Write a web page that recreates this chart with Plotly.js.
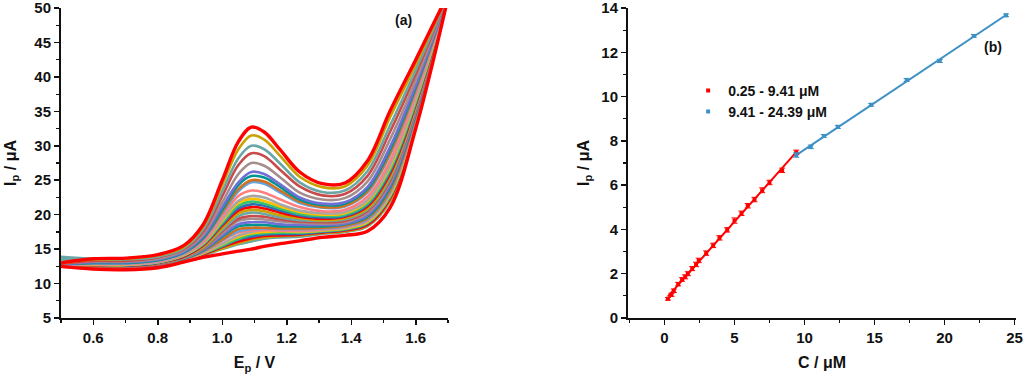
<!DOCTYPE html>
<html><head><meta charset="utf-8">
<script src="https://cdn.plot.ly/plotly-3.0.1.min.js"></script>
<style>html,body{margin:0;padding:0;background:#fff}#chart{width:1024px;height:374px}</style>
</head><body><div id="chart"></div>
<script>
// ---------- Panel (a): DPV curves, potential grid (V) and currents (µA) ----------
const E = [0.50,0.60,0.70,0.80,0.88,0.94,1.00,1.05,1.09,1.13,1.18,1.24,1.31,1.38,1.45,1.52,1.60,1.70];
const c00 = [12.5,12.1,12.0,12.3,13.1,13.8,14.3,14.7,15.0,15.4,15.8,16.2,16.7,17.0,17.6,21.0,32.5,51.5];
const c01 = [13.5,12.9,12.4,12.4,13.3,14.1,15.0,15.7,16.1,16.5,16.7,16.8,17.2,17.5,18.3,21.9,33.1,51.5];
const c02 = [12.5,12.2,12.1,12.5,13.3,14.2,15.1,15.9,16.4,16.7,16.9,17.0,17.3,17.6,18.4,22.1,33.3,51.5];
const c03 = [12.6,12.2,12.2,12.5,13.3,14.2,15.3,16.1,16.6,16.9,17.0,17.1,17.4,17.7,18.5,22.3,33.4,51.6];
const c04 = [12.6,12.3,12.2,12.5,13.4,14.3,15.4,16.4,16.8,17.1,17.2,17.2,17.5,17.8,18.7,22.5,33.5,51.6];
const c05 = [12.6,12.3,12.2,12.5,13.4,14.4,15.5,16.5,17.1,17.3,17.4,17.4,17.6,17.9,18.8,22.6,33.7,51.6];
const c06 = [12.6,12.3,12.2,12.6,13.4,14.4,15.7,16.8,17.3,17.5,17.6,17.5,17.7,18.0,18.9,22.8,33.8,51.6];
const c07 = [12.6,12.3,12.2,12.6,13.4,14.5,15.8,17.0,17.5,17.8,17.7,17.6,17.8,18.1,19.1,23.0,33.9,51.6];
const c08 = [12.4,12.3,12.3,12.6,13.5,14.5,16.2,17.4,17.7,17.8,17.7,17.7,17.9,18.2,19.2,23.2,34.0,51.6];
const c09 = [12.6,12.4,12.3,12.6,13.5,14.6,16.3,17.6,17.9,18.0,17.9,17.9,18.0,18.3,19.3,23.3,34.2,51.6];
const c10 = [12.6,12.4,12.3,12.6,13.5,14.7,16.4,17.9,18.1,18.1,18.0,18.0,18.1,18.4,19.5,23.5,34.3,51.6];
const c11 = [12.6,12.4,12.4,12.7,13.6,14.8,16.8,18.3,18.5,18.5,18.3,18.3,18.3,18.6,19.7,23.9,34.6,51.6];
const c12 = [12.6,12.4,12.4,12.7,13.7,14.9,17.0,18.6,18.9,18.9,18.6,18.5,18.5,18.7,19.9,24.2,34.8,51.6];
const c13 = [12.6,12.5,12.4,12.8,13.7,15.0,17.3,19.1,19.4,19.3,19.0,18.8,18.7,18.9,20.2,24.6,35.1,51.6];
const c14 = [12.6,12.5,12.5,12.8,13.8,15.1,17.6,19.4,19.8,19.7,19.3,19.0,18.9,19.1,20.5,24.9,35.3,51.6];
const c15 = [13.8,13.3,12.8,12.9,13.8,15.2,17.8,19.8,20.3,20.1,19.6,19.2,19.1,19.3,20.7,25.2,35.5,51.7];
const c16 = [12.7,12.6,12.6,12.9,13.9,15.3,18.1,20.2,20.7,20.5,19.9,19.5,19.2,19.5,20.9,25.6,35.8,51.7];
const c17 = [12.7,12.6,12.6,13.0,13.9,15.5,18.4,20.6,21.1,20.9,20.3,19.7,19.4,19.7,21.2,25.9,36.0,51.7];
const c18 = [12.7,12.7,12.6,13.0,14.0,15.6,18.6,20.9,21.5,21.3,20.6,19.9,19.6,19.8,21.4,26.2,36.2,51.7];
const c19 = [12.7,12.7,12.7,13.1,14.1,15.7,18.8,21.3,21.9,21.6,20.9,20.1,19.8,20.0,21.6,26.5,36.4,51.7];
const c20 = [12.7,12.7,12.7,13.1,14.1,15.8,19.1,21.7,22.3,22.0,21.2,20.4,20.0,20.2,21.9,26.9,36.7,51.7];
const c21 = [12.7,12.8,12.8,13.1,14.2,15.9,19.3,22.0,22.7,22.5,21.5,20.6,20.2,20.4,22.1,27.2,36.9,51.7];
const c22 = [12.7,12.8,12.8,13.2,14.3,16.1,19.7,22.7,23.5,23.2,22.2,21.1,20.5,20.7,22.6,27.8,37.4,51.7];
const c23 = [12.8,12.9,12.9,13.3,14.4,16.4,20.2,23.4,24.7,24.5,23.2,21.7,21.0,21.2,23.2,28.7,38.0,51.8];
const c24 = [12.8,13.0,13.0,13.4,14.5,16.5,20.4,23.7,25.0,24.8,23.5,21.9,21.1,21.3,23.4,28.9,38.2,51.8];
const c25 = [12.8,13.0,13.0,13.4,14.5,16.6,20.7,24.3,25.6,25.4,24.0,22.2,21.4,21.6,23.7,29.4,38.5,51.8];
const c26 = [12.8,13.1,13.1,13.5,14.6,16.8,21.1,24.7,26.2,25.9,24.4,22.5,21.6,21.8,24.0,29.8,38.8,51.8];
const c27 = [12.9,13.2,13.2,13.6,14.8,17.1,21.8,25.9,27.5,27.1,25.4,23.2,22.2,22.4,24.8,30.9,39.5,51.9];
const c28 = [12.9,13.3,13.3,13.8,15.0,17.5,22.7,27.2,28.9,28.5,26.5,24.1,22.8,23.0,25.6,32.0,40.4,51.9];
const c29 = [13.9,13.6,13.5,13.9,15.1,17.8,23.4,28.2,30.0,29.5,27.4,24.7,23.3,23.5,26.3,32.9,41.0,51.9];
const c30 = [13.0,13.5,13.6,14.1,15.3,18.2,24.3,29.5,31.5,30.9,28.5,25.5,24.0,24.1,27.1,34.1,41.8,52.0];
const c31 = [13.0,13.6,13.7,14.2,15.5,18.5,25.0,30.6,32.7,32.0,29.4,26.2,24.5,24.6,27.8,35.0,42.5,52.0];
const dpvCurves = [c00,c01,c02,c03,c04,c05,c06,c07,c08,c09,c10,c11,c12,c13,c14,c15,
                   c16,c17,c18,c19,c20,c21,c22,c23,c24,c25,c26,c27,c28,c29,c30,c31];

// ---------- Panel (b): calibration data ----------
const concLow  = [0.25,0.5,0.67,0.98,1.26,1.48,1.67,1.98,2.26,2.45,2.98,3.48,3.93,4.48,5.0,5.5,5.95,6.43,6.98,7.5,8.4,9.41];
const ipLow    = [0.87,1.05,1.23,1.53,1.74,1.86,2.0,2.23,2.42,2.60,2.93,3.28,3.62,3.98,4.40,4.73,5.07,5.35,5.77,6.12,6.67,7.48];
const errLow   = [0.06,0.07,0.08,0.08,0.08,0.09,0.09,0.09,0.1,0.1,0.1,0.1,0.1,0.1,0.12,0.1,0.1,0.1,0.11,0.1,0.1,0.1];
const concHigh = [9.41,10.45,11.38,12.38,14.76,17.29,19.66,22.09,24.39];
const ipHigh   = [7.36,7.73,8.22,8.63,9.63,10.75,11.61,12.74,13.67];
const errHigh  = [0.1,0.08,0.07,0.07,0.06,0.07,0.07,0.06,0.06];
const legendLabels = ['0.25 - 9.41 μM', '9.41 - 24.39 μM'];

// ---------- styles ----------
const palette = ['#ff0000','#c9a100','#6aa6a6','#c94a4a','#a68c8c','#7070d4','#009393',
                 '#d2701e','#63a3e0','#ff7f80','#a6a6a6','#ffc000','#36c173','#2f6db4'];
const RED = '#ff0000', BLUE = '#3d91c4';
const FONT = 'Liberation Sans, Arial, Helvetica, sans-serif';

function linFit(x, y) {
  const n = x.length;
  let sx=0, sy=0, sxx=0, sxy=0;
  for (let i=0;i<n;i++){ sx+=x[i]; sy+=y[i]; sxx+=x[i]*x[i]; sxy+=x[i]*y[i]; }
  const b = (n*sxy - sx*sy)/(n*sxx - sx*sx);
  const a = (sy - b*sx)/n;
  const x0 = Math.min(...x), x1 = Math.max(...x);
  return {x:[x0,x1], y:[a+b*x0, a+b*x1]};
}

const traces = [];
const n = dpvCurves.length;
const order = [];
for (let i=1;i<n-1;i++) order.push(i);
order.push(0); order.push(n-1);
order.forEach(i => {
  const k = (n-1) - i;
  const thick = (i===0 || i===n-1);
  traces.push({
    x: E, y: dpvCurves[i], type:'scatter', mode:'lines',
    line:{color: thick ? RED : palette[k % palette.length], width: thick ? 3.4 : 2.6, shape:'spline', smoothing:1},
    xaxis:'x', yaxis:'y', showlegend:false, hoverinfo:'skip'
  });
});

const fLow = linFit(concLow, ipLow);
const fHigh = linFit(concHigh, ipHigh);
traces.push({x:fLow.x, y:fLow.y, type:'scatter', mode:'lines', line:{color:RED,width:2},
  xaxis:'x2', yaxis:'y2', showlegend:false});
traces.push({x:fHigh.x, y:fHigh.y, type:'scatter', mode:'lines', line:{color:BLUE,width:2},
  xaxis:'x2', yaxis:'y2', showlegend:false});
traces.push({x:concLow, y:ipLow, type:'scatter', mode:'markers', name:legendLabels[0],
  marker:{color:RED, size:4, symbol:'square'},
  error_y:{type:'data', array:errLow, visible:true, color:RED, thickness:1, width:3},
  xaxis:'x2', yaxis:'y2'});
traces.push({x:concHigh, y:ipHigh, type:'scatter', mode:'markers', name:legendLabels[1],
  marker:{color:BLUE, size:4, symbol:'square'},
  error_y:{type:'data', array:errHigh, visible:true, color:BLUE, thickness:1, width:3},
  xaxis:'x2', yaxis:'y2'});

const tickF = {family:FONT, size:15, color:'#111', weight:'bold'};
const titleF = {family:FONT, size:16, color:'#111', weight:'bold'};
function ax(extra){
  return Object.assign({
    showline:true, linecolor:'#111', linewidth:2, mirror:false,
    ticks:'outside', ticklen:5, tickwidth:1.5, tickcolor:'#111',
    showgrid:false, zeroline:false, tickfont:tickF, automargin:false,
    ticklabeloverflow:'allow'
  }, extra);
}
const yDom = [0.1497, 0.9786];
const layout = {
  width:1024, height:374, margin:{l:0,r:0,t:0,b:0},
  paper_bgcolor:'#fff', plot_bgcolor:'#fff',
  font:{family:FONT, color:'#111'},
  xaxis: ax({domain:[0.0596,0.4375], range:[0.5,1.7], tick0:0.6, dtick:0.2, tickformat:'.1f',
    minor:{dtick:0.1, tick0:0.5, ticks:'outside', ticklen:3, tickcolor:'#111', tickwidth:1.2},
    title:{text:'E<sub>p</sub> / V', font:titleF, standoff:12}, anchor:'y'}),
  yaxis: ax({domain:yDom, range:[5,50], tick0:5, dtick:5,
    minor:{dtick:2.5, ticks:'outside', ticklen:3, tickcolor:'#111', tickwidth:1.2},
    title:{text:'I<sub>p</sub> / μA', font:titleF, standoff:14}, anchor:'x'}),
  xaxis2: ax({domain:[0.6133,0.9922], range:[-2.6,25.1], tick0:0, dtick:5,
    minor:{dtick:2.5, tick0:0, ticks:'outside', ticklen:3, tickcolor:'#111', tickwidth:1.2},
    title:{text:'C / μM', font:titleF, standoff:12}, anchor:'y2'}),
  yaxis2: ax({domain:yDom, range:[0,14], tick0:0, dtick:2,
    minor:{dtick:1, ticks:'outside', ticklen:3, tickcolor:'#111', tickwidth:1.2},
    title:{text:'I<sub>p</sub> / μA', font:titleF, standoff:8}, anchor:'x2'}),
  showlegend:true,
  legend:{x:0.672, y:0.8, xanchor:'left', yanchor:'top', bgcolor:'rgba(0,0,0,0)',
    font:{family:FONT, size:14, color:'#111', weight:'bold'}, itemwidth:30, tracegroupgap:0},
  annotations:[
    {text:'<b>(a)</b>', xref:'paper', yref:'paper', x:0.3936, y:0.9465, xanchor:'center', yanchor:'middle',
     showarrow:false, font:{family:FONT, size:14, color:'#111'}},
    {text:'<b>(b)</b>', xref:'paper', yref:'paper', x:0.9697, y:0.874, xanchor:'center', yanchor:'middle',
     showarrow:false, font:{family:FONT, size:14, color:'#111'}}
  ]
};
Plotly.newPlot('chart', traces, layout, {displayModeBar:false, staticPlot:true});
</script></body></html>
